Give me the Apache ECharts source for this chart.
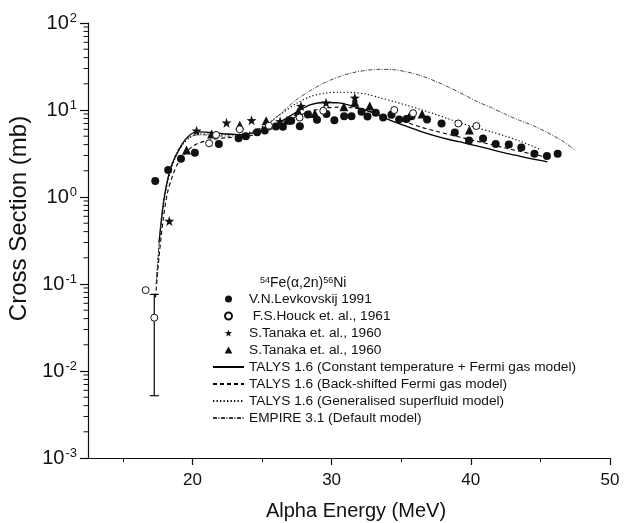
<!DOCTYPE html>
<html>
<head>
<meta charset="utf-8">
<script src="https://cdn.jsdelivr.net/npm/echarts@6/dist/echarts.min.js"></script>
<style>
html,body{margin:0;padding:0;background:#fff;}
#chart{width:630px;height:523px;}
</style>
</head>
<body>
<div id="chart"></div>
<script>
// measured points, alpha energy (MeV) / cross section (mb)
var levE = [17.33,18.26,19.18,20.18,21.9,23.32,23.84,24.65,25.2,26.0,26.5,27.1,27.72,28.3,28.95,29.63,30.2,30.9,31.43,32.15,32.58,33.17,33.7,34.3,34.85,35.38,35.74,36.86,37.9,38.85,39.87,40.88,41.79,42.73,43.63,44.57,45.47,46.24];
var levY = [1.53,2.04,2.76,3.23,4.06,4.73,5.0,5.55,5.8,6.45,6.4,7.5,6.5,8.9,7.75,9.0,7.6,8.5,8.5,9.55,8.4,9.3,8.2,8.8,7.8,7.9,8.5,7.8,7.0,5.5,4.45,4.7,4.06,4.0,3.7,3.15,2.96,3.15];

var houckE = [16.64,17.26,21.2,21.7,23.4,25.5,27.7,29.4,34.5,35.85,39.1,40.4];
var houckY = [0.085,0.041,4.14,5.17,6.0,6.6,8.2,9.8,10.0,9.2,7.0,6.55];

var errE = [17.26];
var errLo = [0.0052];
var errHi = [0.076];

var tanStarE = [18.34,20.3,22.45,24.25,26.3,27.8,29.6,31.67];
var tanStarY = [0.53,5.78,7.14,7.6,7.4,11.1,12.1,13.8];

var tanTriE = [19.58,21.38,23.4,25.3,26.8,27.6,28.8,30.88,31.67,32.74,36.5,39.9];
var tanTriY = [3.47,5.3,6.7,7.5,7.6,9.6,9.1,10.9,12.3,11.1,9.0,5.9];

// model curves
var ctE = [17.6,17.9,18.15,18.5,19.0,19.5,20.0,20.5,21.5,22.5,23.5,24.5,25.5,26.5,27.5,28.5,29.5,30.5,31.5,32.5,33.5,34.5,35.5,36.5,37.5,38.5,39.5,40.5,41.5,42.5,43.5,44.5,45.5];
var ctY = [0.3,0.8,1.4,2.3,3.4,4.6,5.4,5.6,5.5,5.3,5.2,5.5,6.3,7.6,9.5,11.5,12.2,12.1,11.1,9.9,8.5,7.3,6.4,5.6,5.0,4.55,4.2,3.85,3.5,3.2,2.95,2.72,2.54];

var bsfE = [17.35,17.6,17.9,18.2,18.6,19.0,19.5,20.0,20.5,21.5,22.5,23.5,24.5,25.5,26.5,27.5,28.5,29.5,30.5,31.5,32.5,33.5,34.5,35.5,36.5,37.5,38.5,39.5,40.5,41.5,42.5,43.5,44.5,45.5];
var bsfY = [0.07,0.2,0.55,1.1,1.8,2.5,3.2,3.8,4.2,4.6,4.8,4.9,5.2,5.9,7.0,8.4,9.7,10.5,10.8,10.6,9.9,9.0,8.0,7.1,6.3,5.7,5.2,4.75,4.35,4.0,3.65,3.35,3.1,2.86];

var gsfE = [17.4,17.7,18.0,18.4,18.8,19.3,19.8,20.5,21.5,22.5,23.5,24.5,25.5,26.5,27.5,28.5,29.5,30.5,31.5,32.5,33.5,34.5,35.5,36.5,37.5,38.5,39.5,40.5,41.5,42.5,43.5,44.5,45.0];
var gsfY = [0.1,0.4,1.0,1.9,2.9,4.0,4.8,5.3,5.3,5.2,5.3,5.8,7.2,9.3,12.0,14.3,15.6,16.0,15.9,15.2,13.8,12.5,11.2,10.0,8.9,7.8,6.9,6.2,5.6,5.0,4.4,3.8,3.5];

var empE = [17.4,17.7,18.0,18.4,18.8,19.3,19.8,20.5,21.5,22.5,23.5,24.5,25.5,26.5,27.5,28.5,29.5,30.5,31.5,32.5,33.5,34.5,35.5,36.5,37.5,38.5,39.5,40.5,41.5,42.5,43.5,44.5,45.5,46.5,47.5];
var empY = [0.1,0.45,1.1,2.1,3.1,4.2,4.9,5.2,5.1,5.0,5.1,5.6,7.0,9.6,13.2,16.8,20.6,24.0,26.8,28.6,29.3,29.0,27.2,24.5,21.3,18.0,15.0,12.4,10.6,8.9,7.6,6.6,5.5,4.5,3.45];

// axis ticks
var xLabels = [20,30,40,50];
var xMinor = [15,25,35,45];
var yDecades = [-3,-2,-1,0,1,2];
var yMinorMult = [2,3,4,5,6,7,8,9];

var X_MIN = 12.5, X_MAX = 50;
var FONT = 'Liberation Sans, Arial, sans-serif';
var STAR = 'path://M0,-10L2.35,-3.24L9.51,-3.09L3.8,1.24L5.88,8.09L0,4L-5.88,8.09L-3.8,1.24L-9.51,-3.09L-2.35,-3.24Z';
var TRI = 'path://M0,-10L10,8L-10,8Z';

function lg(v){ return Math.log10(v); }
function pts(xs, ys){
	return xs.map(function(x, i){ return [x, lg(ys[i])]; });
}
// log minor tick positions (2..9 in every decade)
function yMinorTicks(){
	var arr = [];
	for(var d = -3; d < 2; d++){
		yMinorMult.forEach(function(k){ arr.push(d + lg(k)); });
	}
	return arr;
}

function lineSeries(name, xs, ys, style){
	return {
		name: name,
		type: 'line',
		data: pts(xs, ys),
		symbol: 'none',
		smooth: 0.3,
		lineStyle: style,
		itemStyle: { color: 'rgba(0,0,0,0)', borderWidth: 0 },
		silent: true,
		z: 2
	};
}

function initOpt(){
	var axisCol = '#111';
	return {
		backgroundColor: '#fff',
		animation: false,
		textStyle: { fontFamily: FONT },
		grid: { left: 88, top: 23, right: 20, bottom: 65, containLabel: false, outerBoundsMode: 'none' },
		legend: {
			orient: 'vertical',
			left: 212,
			top: 292,
			padding: 0,
			itemWidth: 31,
			itemHeight: 7,
			itemGap: 3,
			selectedMode: false,
			textStyle: { fontFamily: FONT, fontSize: 13.7, color: '#111', lineHeight: 14 },
			data: ['V.N.Levkovskij 1991', ' F.S.Houck et. al., 1961', 'S.Tanaka et. al., 1960', 'S.Tanaka et. al., 1960 ',
				'TALYS 1.6 (Constant temperature + Fermi gas model)', 'TALYS 1.6 (Back-shifted Fermi gas model)',
				'TALYS 1.6 (Generalised superfluid model)', 'EMPIRE 3.1 (Default model)']
		},
		graphic: [{
			type: 'text',
			left: 260,
			top: 276,
			style: {
				text: '{s|54}{t|Fe(α,2n)}{s|56}{t|Ni}',
				rich: {
					t: { fontFamily: FONT, fontSize: 14, fill: '#111' },
					s: { fontFamily: FONT, fontSize: 9, fill: '#111', padding: [0, 0, 6, 0] }
				}
			}
		}],
		xAxis: [{
			type: 'value',
			min: X_MIN,
			max: X_MAX,
			name: 'Alpha Energy (MeV)',
			nameLocation: 'middle',
			nameGap: 43,
			nameTextStyle: { fontFamily: FONT, fontSize: 20, color: '#111', padding: [0, 0, 0, 14] },
			axisLine: { show: true, onZero: false, lineStyle: { color: axisCol, width: 1.2 } },
			axisTick: { show: true, inside: false, length: 7, customValues: xLabels, lineStyle: { color: axisCol, width: 1.2 } },
			axisLabel: { customValues: xLabels, margin: 14, fontFamily: FONT, fontSize: 17, color: '#111' },
			splitLine: { show: false }
		}, {
			type: 'value',
			min: X_MIN,
			max: X_MAX,
			position: 'bottom',
			offset: 0,
			axisLine: { show: true, onZero: false, lineStyle: { color: 'rgba(0,0,0,0)' } },
			axisTick: { show: true, length: 4, customValues: xMinor, lineStyle: { color: axisCol, width: 1 } },
			axisLabel: { show: false },
			splitLine: { show: false }
		}],
		yAxis: [{
			type: 'value',
			min: -3,
			max: 2,
			name: 'Cross Section (mb)',
			nameLocation: 'middle',
			nameGap: 53,
			nameRotate: 90,
			nameTextStyle: { fontFamily: FONT, fontSize: 24, color: '#111', padding: [0, 0, 0, 44] },
			axisLine: { show: true, onZero: false, lineStyle: { color: axisCol, width: 1.2 } },
			axisTick: { show: true, length: 8, customValues: yDecades, lineStyle: { color: axisCol, width: 1.2 } },
			axisLabel: {
				customValues: yDecades,
				margin: 11,
				formatter: function(v){ return '{b|10}{s|' + v + '}'; },
				rich: {
					b: { fontFamily: FONT, fontSize: 20, color: '#111' },
					s: { fontFamily: FONT, fontSize: 13, color: '#111', padding: [0, 0, 10, 1] }
				}
			},
			splitLine: { show: false }
		}],
		series: [
			lineSeries('TALYS 1.6 (Constant temperature + Fermi gas model)', ctE, ctY, { color: '#000', width: 1.3, type: 'solid' }),
			lineSeries('TALYS 1.6 (Back-shifted Fermi gas model)', bsfE, bsfY, { color: '#000', width: 1.1, type: [4, 3] }),
			lineSeries('TALYS 1.6 (Generalised superfluid model)', gsfE, gsfY, { color: '#000', width: 1.1, type: [1.3, 2.2] }),
			lineSeries('EMPIRE 3.1 (Default model)', empE, empY, { color: '#333', width: 0.9, type: [4, 1.5, 1, 1.5] }),
			{
				// minor ticks of the log y axis
				type: 'custom',
				silent: true,
				clip: false,
				z: 1,
				data: yMinorTicks().map(function(v){ return [X_MIN, v]; }),
				renderItem: function(params, api){
					var p = api.coord([api.value(0), api.value(1)]);
					return {
						type: 'line',
						shape: { x1: p[0] - 4.5, y1: p[1], x2: p[0], y2: p[1] },
						style: { stroke: axisCol, lineWidth: 1 }
					};
				}
			},
			{
				// error bar
				type: 'custom',
				silent: true,
				z: 3,
				data: errE.map(function(x, i){ return [x, lg(errLo[i]), lg(errHi[i])]; }),
				renderItem: function(params, api){
					var x = api.value(0);
					var p1 = api.coord([x, api.value(1)]);
					var p2 = api.coord([x, api.value(2)]);
					var st = { stroke: '#000', lineWidth: 1.2 };
					return {
						type: 'group',
						children: [
							{ type: 'line', shape: { x1: p1[0], y1: p1[1], x2: p2[0], y2: p2[1] }, style: st },
							{ type: 'line', shape: { x1: p1[0] - 4.5, y1: p1[1], x2: p1[0] + 4.5, y2: p1[1] }, style: st },
							{ type: 'line', shape: { x1: p2[0] - 4.5, y1: p2[1], x2: p2[0] + 4.5, y2: p2[1] }, style: st }
						]
					};
				}
			},
			{
				name: 'V.N.Levkovskij 1991',
				type: 'scatter',
				data: pts(levE, levY),
				symbol: 'circle',
				symbolSize: 8,
				itemStyle: { color: '#111', opacity: 1 },
				z: 4
			},
			{
				name: ' F.S.Houck et. al., 1961',
				type: 'scatter',
				data: pts(houckE, houckY),
				symbol: 'circle',
				symbolSize: 7,
				itemStyle: { color: '#fff', borderColor: '#111', borderWidth: 1, opacity: 1 },
				z: 5
			},
			{
				name: 'S.Tanaka et. al., 1960',
				type: 'scatter',
				data: pts(tanStarE, tanStarY),
				symbol: STAR,
				symbolSize: 10,
				itemStyle: { color: '#111', opacity: 1 },
				z: 4
			},
			{
				name: 'S.Tanaka et. al., 1960 ',
				type: 'scatter',
				data: pts(tanTriE, tanTriY),
				symbol: TRI,
				symbolSize: 9,
				itemStyle: { color: '#111', opacity: 1 },
				z: 4
			}
		]
	};
}

var myChart = echarts.init(document.getElementById('chart'), null, { renderer: 'canvas' });
myChart.setOption(initOpt());
</script>
</body>
</html>
